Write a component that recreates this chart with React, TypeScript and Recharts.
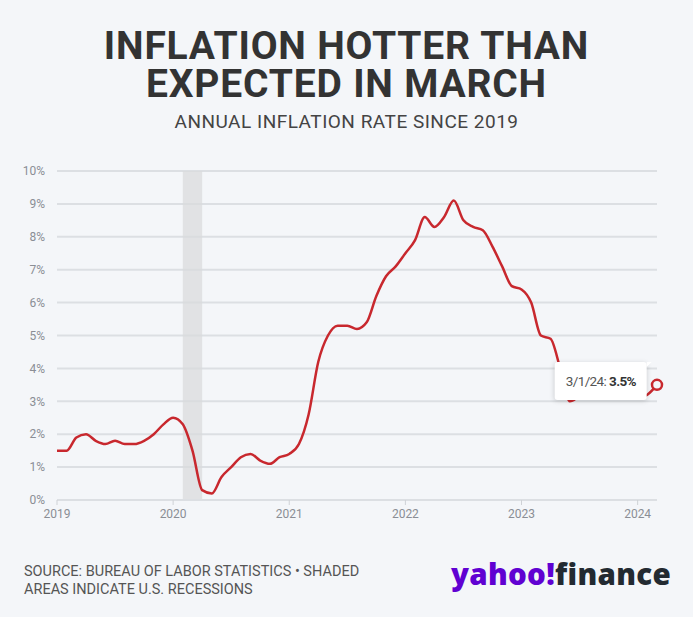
import React from 'react'
import { LineChart, Line, XAxis, YAxis, CartesianGrid, ReferenceArea, Tooltip } from 'recharts'

// annual CPI change, one value per month (Jan..Dec)
const y2019 = [1.5, 1.5, 1.9, 2.0, 1.8, 1.7, 1.8, 1.7, 1.7, 1.8, 2.0, 2.3]
const y2020 = [2.5, 2.3, 1.5, 0.3, 0.2, 0.7, 1.0, 1.3, 1.4, 1.2, 1.1, 1.3]
const y2021 = [1.4, 1.7, 2.6, 4.2, 5.0, 5.3, 5.3, 5.2, 5.4, 6.2, 6.8, 7.1]
const y2022 = [7.5, 7.9, 8.6, 8.3, 8.6, 9.1, 8.5, 8.3, 8.2, 7.7, 7.1, 6.5]
const y2023 = [6.4, 6.0, 5.0, 4.9, 4.0, 3.0, 3.2, 3.7, 3.7, 3.2, 3.1, 3.4]
const y2024 = [3.1, 3.2, 3.5]

const years = [2019, 2020, 2021, 2022, 2023, 2024]
const yearTicks = [0, 12, 24, 36, 48, 60]
const pctTicks = [0, 1, 2, 3, 4, 5, 6, 7, 8, 9, 10]
const recession = [13, 15] // Feb 2020 - Apr 2020

const BG = '#f4f6f9'
const RED = '#c8282e'
const GRID = '#dcdfe3'
const TICK = '#8a8e95'

const data = [y2019, y2020, y2021, y2022, y2023, y2024].flatMap((vals, yi) =>
  vals.map((v, m) => ({
    t: yi * 12 + m,
    label: `${m + 1}/1/${String(years[yi]).slice(2)}`,
    v,
  }))
)

function TipBox({ active, payload }: any) {
  if (!active || !payload || !payload.length) return null
  const p = payload[0].payload
  return (
    <div
      style={{
        position: 'relative',
        background: '#fff',
        borderRadius: 3,
        boxShadow: '0 1px 5px rgba(0,0,0,0.16)',
        padding: '0 11px',
        height: 38,
        lineHeight: '38px',
        fontFamily: 'Roboto, sans-serif',
        fontSize: 13.5,
        letterSpacing: -0.6,
        color: '#555',
        whiteSpace: 'nowrap',
      }}
    >
      {p.label}: <b style={{ color: '#333' }}>{p.v}%</b>
      <div
        style={{
          position: 'absolute',
          right: -5,
          top: 0,
          width: 0,
          height: 0,
          borderTop: '5px solid #fff',
          borderRight: '5px solid transparent',
        }}
      />
    </div>
  )
}

export default function App() {
  return (
    <div
      style={{
        position: 'absolute',
        left: 0,
        top: 0,
        width: 693,
        height: 617,
        background: BG,
        fontFamily: 'Roboto, sans-serif',
        overflow: 'hidden',
      }}
    >
      <div
        style={{
          position: 'absolute',
          top: 27,
          left: 0,
          width: 693,
          textAlign: 'center',
          fontSize: 39,
          lineHeight: '38px',
          fontWeight: 700,
          letterSpacing: 0.8,
          color: '#333',
        }}
      >
        INFLATION HOTTER THAN
        <br />
        EXPECTED IN MARCH
      </div>
      <div
        style={{
          position: 'absolute',
          top: 112,
          left: 0,
          width: 693,
          textAlign: 'center',
          fontSize: 19,
          lineHeight: '19px',
          letterSpacing: 0.5,
          color: '#444',
        }}
      >
        ANNUAL INFLATION RATE SINCE 2019
      </div>

      <div style={{ position: 'absolute', left: 0, top: 160 }}>
        <LineChart width={693} height={370} data={data} margin={{ top: 11, right: 36, bottom: 0, left: 0 }}>
          <CartesianGrid vertical={false} stroke={GRID} strokeWidth={2} />
          <ReferenceArea x1={recession[0]} x2={recession[1]} fill="#d9dadc" fillOpacity={0.7} stroke="none" />
          <XAxis
            dataKey="t"
            type="number"
            domain={[0, 62]}
            ticks={yearTicks}
            tickFormatter={(t: number) => String(years[0] + t / 12)}
            axisLine={{ stroke: GRID, strokeWidth: 2 }}
            tickLine={{ stroke: '#cfd2d6' }}
            tickSize={5}
            tickMargin={4}
            tick={{ fill: TICK, fontSize: 12 }}
            height={30}
          />
          <YAxis
            domain={[0, 10]}
            ticks={pctTicks}
            tickFormatter={(v: number) => `${v}%`}
            axisLine={false}
            tickLine={false}
            tickMargin={6}
            tick={{ fill: TICK, fontSize: 12 }}
            width={57}
          />
          <Tooltip
            defaultIndex={data.length - 1}
            cursor={false}
            position={{ y: 202 }}
            content={<TipBox />}
            isAnimationActive={false}
            wrapperStyle={{ outline: 'none' }}
          />
          <Line
            type="monotone"
            dataKey="v"
            stroke={RED}
            strokeWidth={2.5}
            dot={false}
            activeDot={{ r: 5, stroke: RED, strokeWidth: 2.5, fill: BG }}
            isAnimationActive={false}
          />
        </LineChart>
      </div>

      <div
        style={{
          position: 'absolute',
          left: 24,
          top: 563,
          fontSize: 14.5,
          lineHeight: '18px',
          color: '#555',
        }}
      >
        SOURCE: BUREAU OF LABOR STATISTICS • SHADED
        <br />
        AREAS INDICATE U.S. RECESSIONS
      </div>
      <div
        style={{
          position: 'absolute',
          right: 22,
          top: 556,
          fontFamily: '"Open Sans", Roboto, sans-serif',
          fontSize: 29.5,
          lineHeight: '36px',
          fontWeight: 800,
          letterSpacing: 0.3,
        }}
      >
        <span style={{ color: '#6001d2' }}>yahoo!</span>
        <span style={{ color: '#232a31' }}>finance</span>
      </div>
    </div>
  )
}
